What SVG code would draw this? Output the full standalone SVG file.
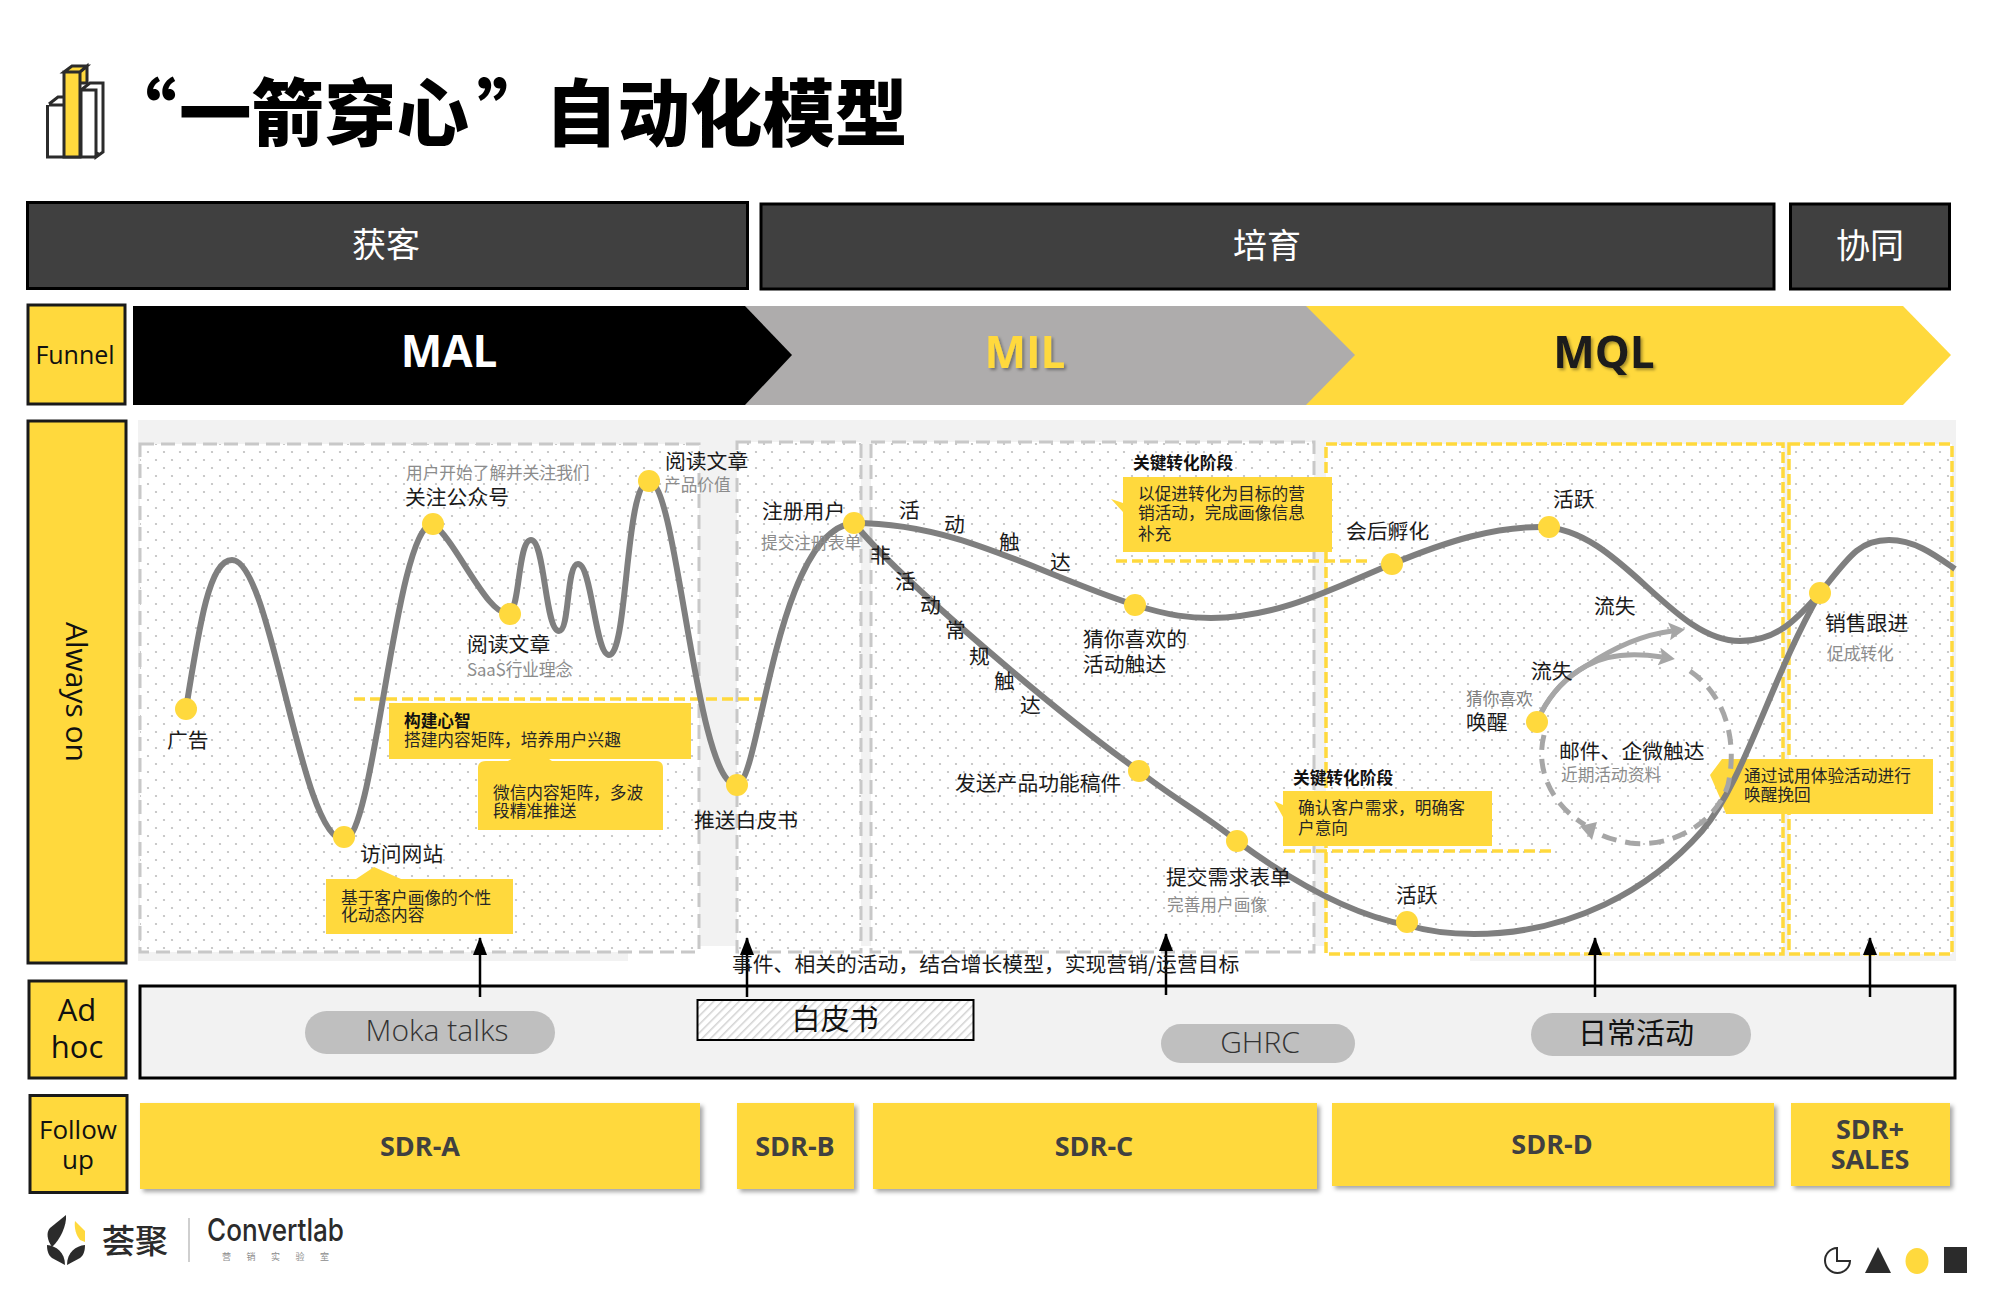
<svg xmlns="http://www.w3.org/2000/svg" width="2000" height="1300" viewBox="0 0 2000 1300">
<style>
text{font-family:"Open Sans","Noto Sans CJK SC",sans-serif;fill:#1a1a1a}
.cjk{font-family:"Noto Sans CJK SC","Open Sans",sans-serif}
.l{font-size:20.800px}
.s{font-size:16.700px;fill:#8c8c8c}
.c{font-size:16.700px;fill:#262626}
.b{font-size:16.700px;font-weight:700;fill:#111}
.hd{fill:#404040;stroke:#000;stroke-width:3}
.ht{font-size:34px;fill:#fff;text-anchor:middle}
.side{fill:#ffd93d;stroke:#1a1a1a;stroke-width:3}
.st{text-anchor:middle;fill:#111}
.pg{fill:url(#dots);stroke:#c8c8c8;stroke-width:3;stroke-dasharray:14 7}
.py{fill:url(#dots);stroke:#ffd93d;stroke-width:3.500;stroke-dasharray:11 4}
.dy{fill:none;stroke:#ffd93d;stroke-width:3.500;stroke-dasharray:11 5}
.curve{fill:none;stroke:#7f7f7f;stroke-width:6}
.dot{fill:#ffd93d}
.box{fill:#ffd93d}
.pill{fill:#bfbfbf}
.pt{text-anchor:middle;font-size:30px;fill:#333;font-weight:300}
.ptc{text-anchor:middle;font-size:29px;fill:#111;font-weight:400}
.sdr{fill:#ffd93d;filter:url(#sh)}
.sdt{font-size:27px;font-weight:700;fill:#404040;text-anchor:middle}
.up{stroke:#000;stroke-width:2.500;fill:none;marker-end:url(#ah)}
.ga{fill:none;stroke:#a6a6a6;stroke-width:5;marker-end:url(#gh)}
.ink{fill:#2b2b2b}
</style>
<defs>
<pattern id="dots" width="16" height="16" patternUnits="userSpaceOnUse"><rect width="16" height="16" fill="#fff"/><circle cx="4" cy="4" r="1.100" fill="#bdbdbd"/><circle cx="12" cy="12" r="1.100" fill="#bdbdbd"/></pattern>
<pattern id="hatch" width="6" height="6" patternUnits="userSpaceOnUse" patternTransform="rotate(45)"><rect width="6" height="6" fill="#fff"/><rect width="1.500" height="6" fill="#d2d2d2"/></pattern>
<marker id="ah" markerUnits="userSpaceOnUse" markerWidth="18" markerHeight="14" refX="17" refY="7" orient="auto" viewBox="0 0 18 14"><path d="M0,0 L18,7 L0,14 Z" fill="#000"/></marker>
<marker id="gh" markerUnits="userSpaceOnUse" markerWidth="16" markerHeight="18" refX="3" refY="9" orient="auto" viewBox="0 0 16 18"><path d="M0,0 L16,9 L0,18 L3,9 Z" fill="#a6a6a6"/></marker>
<filter id="sh" x="-5%" y="-10%" width="110%" height="125%"><feDropShadow dx="3" dy="3" stdDeviation="2" flood-color="#000" flood-opacity=".35"/></filter>
<filter id="ts" x="-10%" y="-10%" width="120%" height="120%"><feDropShadow dx="2" dy="2" stdDeviation="1.500" flood-color="#000" flood-opacity=".35"/></filter>
</defs>
<rect width="2000" height="1300" fill="#fff"/>

<g id="title-icon">
<path d="M47,157V105L56,98H66V157Z M80,157V90L88,82H97V90" fill="#fff"/>
<path d="M49,104L58,97H65 M49,105H63 M47.500,105V157H95L98,152 M81,90L90,83H103V152L96,157V90H81V157" fill="#fff" stroke="#2b2b2b" stroke-width="3"/>
<path d="M64,157V72H80V157Z M64,72L72,66H87L80,72Z M80,72L87,66V83H80Z" fill="#ffd93d" stroke="#2b2b2b" stroke-width="3"/>
</g>
<text id="title" class="cjk" y="140" font-size="72.500" font-weight="900" style="fill:#000"><tspan x="104">“</tspan><tspan x="179">一箭穿心</tspan><tspan x="477">”</tspan><tspan x="545">自动化模型</tspan></text>

<g id="stage-acquire"><rect class="hd" x="27.500" y="202.500" width="720" height="86"/><text class="ht cjk" x="386" y="257">获客</text></g>
<g id="stage-nurture"><rect class="hd" x="761" y="204" width="1013" height="85"/><text class="ht cjk" x="1267" y="258">培育</text></g>
<g id="stage-collab"><rect class="hd" x="1790.500" y="204" width="159" height="85"/><text class="ht cjk" x="1870" y="258">协同</text></g>

<g id="label-funnel"><rect class="side" x="28" y="305" width="97" height="99"/><text class="st" x="75" y="364" font-size="25">Funnel</text></g>
<g id="funnel-mql"><path d="M1300,306H1903L1951,355L1903,405H1300Z" fill="#ffd93d"/><text x="1604" y="368" font-size="44" font-weight="700" text-anchor="middle" filter="url(#ts)" style="fill:#1a1a1a">MQL</text></g>
<g id="funnel-mil"><path d="M745,306H1306L1355,355L1306,405H745Z" fill="#aeacac"/><text x="1025" y="368" font-size="44" font-weight="700" text-anchor="middle" filter="url(#ts)" style="fill:#ffd93d">MIL</text></g>
<g id="funnel-mal"><path d="M133,306H745L792,355L745,405H133Z" fill="#000"/><text x="449" y="367" font-size="44" font-weight="700" text-anchor="middle" style="fill:#fff">MAL</text></g>

<g id="label-always-on"><rect class="side" x="28" y="421" width="98" height="542"/><text class="st" font-size="30" transform="translate(66 692) rotate(90)">Always on</text></g>

<g id="canvas">
<rect x="138" y="420" width="1818" height="526" fill="#f2f2f2"/>
<rect x="138" y="946" width="490" height="15" fill="#f2f2f2"/>
<rect x="1470" y="946" width="486" height="15" fill="#f2f2f2"/>
<rect class="pg" x="140" y="444" width="559" height="508"/>
<rect class="pg" x="737" y="442" width="124" height="510"/>
<rect class="pg" x="871" y="442" width="443" height="510"/>
<rect class="py" x="1326" y="444" width="457" height="510"/>
<rect class="py" x="1789" y="444" width="163" height="510"/>
</g>

<g id="callouts">
<path class="dy" d="M354,699H762"/>
<path class="dy" d="M1116,561H1367"/>
<path class="dy" d="M1284,851H1555"/>
<g id="callout-mind"><rect class="box" x="389" y="703" width="302" height="56"/><text class="b cjk" x="404" y="727">构建心智</text><text class="c cjk" x="404" y="746">搭建内容矩阵，培养用户兴趣</text></g>
<g id="callout-wechat"><path class="box" d="M478,830V768Q478,761 486,761H508L515,757H546L552,761H656Q663,761 663,768V830Z"/><text class="c cjk" x="493" y="799">微信内容矩阵，多波</text><text class="c cjk" x="493" y="817">段精准推送</text></g>
<g id="callout-dynamic"><path class="box" d="M326,879H356L374,867L401,879H513V934H326Z"/><text class="c cjk" x="341" y="904">基于客户画像的个性</text><text class="c cjk" x="341" y="921">化动态内容</text></g>
<g id="callout-key1"><path class="box" d="M1123,477H1332V552H1123V512L1111,499L1123,503Z"/><text class="b cjk" x="1133" y="469">关键转化阶段</text><text class="c cjk" x="1138" y="500">以促进转化为目标的营</text><text class="c cjk" x="1138" y="519">销活动，完成画像信息</text><text class="c cjk" x="1138" y="540">补充</text></g>
<g id="callout-key2"><path class="box" d="M1283,791H1492V846H1283V817L1274,801L1283,805Z"/><text class="b cjk" x="1293" y="784">关键转化阶段</text><text class="c cjk" x="1298" y="814">确认客户需求，明确客</text><text class="c cjk" x="1298" y="834">户意向</text></g>
<g id="callout-trial"><path class="box" d="M1722,759H1933V814H1726L1720,798L1710,775Z"/><text class="c cjk" x="1744" y="782">通过试用体验活动进行</text><text class="c cjk" x="1744" y="801">唤醒挽回</text></g>
</g>

<g id="connectors">
<path id="curve-acquire" class="curve" d="M186,709C200,620 210,560 232,560C272,560 300,840 344,840C375,840 395,524 433,524C456,540 490,622 510,612C520,607 518,540 531,540C545,540 545,631 559,631C570,631 566,564 578,564C592,564 595,655 609,655C628,655 625,481 649,481C678,481 695,785 737,785C760,785 775,530 854,523"/>
<path id="curve-upper" class="curve" d="M854,523C960,523 1040,575 1135,605C1170,616 1190,618 1211,618C1280,618 1340,585 1392,564C1450,540 1495,527 1540,527C1620,527 1670,641 1740,641C1780,641 1800,615 1820,593C1850,555 1860,540 1889,540C1915,540 1935,555 1955,569"/>
<path id="curve-lower" class="curve" d="M854,523C900,580 1060,715 1139,771C1170,796 1205,815 1237,841C1290,880 1350,915 1407,925C1430,932 1450,934 1474,934C1570,934 1650,890 1702,831C1745,780 1770,680 1820,593"/>
<path id="arrow-lost-1" class="ga" d="M1541,713C1552,692 1568,676 1586,666C1610,650 1640,635 1672,631"/>
<path id="arrow-lost-2" class="ga" d="M1541,713C1552,692 1568,676 1586,666C1605,655 1630,652 1662,657"/>
<path id="loop-a" fill="none" stroke="#a6a6a6" stroke-width="5" stroke-dasharray="15 9" d="M1690,671C1725,695 1738,740 1728,785C1715,825 1670,848 1630,843C1615,840 1605,838 1596,832"/>
<path id="loop-b" fill="none" stroke="#a6a6a6" stroke-width="5" stroke-dasharray="15 9" d="M1544,735C1535,770 1552,805 1585,825"/>
<path id="loop-head" d="M1597,822L1592,840L1580,826Z" fill="#a6a6a6"/>
<path class="up" d="M480,997V938"/>
<path class="up" d="M747,997V938"/>
<path class="up" d="M1166,995V934"/>
<path class="up" d="M1595,997V938"/>
<path class="up" d="M1870,997V938"/>
</g>

<g id="node-ad"><circle class="dot" cx="186" cy="709" r="11"/><text class="l cjk" x="167" y="748">广告</text></g>
<g id="node-visit"><circle class="dot" cx="344" cy="837" r="11"/><text class="l cjk" x="360" y="862">访问网站</text></g>
<g id="node-follow"><circle class="dot" cx="433" cy="524" r="11"/><text class="s cjk" x="406" y="479">用户开始了解并关注我们</text><text class="l cjk" x="405" y="505">关注公众号</text></g>
<g id="node-read1"><circle class="dot" cx="510" cy="614" r="11"/><text class="l cjk" x="467" y="652">阅读文章</text><text class="s cjk" x="467" y="676">SaaS行业理念</text></g>
<g id="node-read2"><circle class="dot" cx="649" cy="481" r="11"/><text class="l cjk" x="665" y="469">阅读文章</text><text class="s cjk" x="664" y="491">产品价值</text></g>
<g id="node-whitepaper"><circle class="dot" cx="737" cy="785" r="11"/><text class="l cjk" x="694" y="828">推送白皮书</text></g>
<g id="node-register"><circle class="dot" cx="854" cy="523" r="11"/><text class="l cjk" x="762" y="519">注册用户</text><text class="s cjk" x="761" y="549">提交注册表单</text></g>
<g id="label-active-touch">
<text class="l cjk" x="899" y="518">活</text><text class="l cjk" x="944" y="532">动</text><text class="l cjk" x="999" y="550">触</text><text class="l cjk" x="1050" y="570">达</text>
</g>
<g id="label-nonactive-touch">
<text class="l cjk" x="870" y="563">非</text><text class="l cjk" x="895" y="589">活</text><text class="l cjk" x="920" y="613">动</text><text class="l cjk" x="945" y="638">常</text><text class="l cjk" x="969" y="664">规</text><text class="l cjk" x="994" y="689">触</text><text class="l cjk" x="1020" y="713">达</text>
</g>
<g id="node-guess"><circle class="dot" cx="1135" cy="605" r="11"/><text class="l cjk" x="1083" y="647">猜你喜欢的</text><text class="l cjk" x="1083" y="672">活动触达</text></g>
<g id="node-feature"><circle class="dot" cx="1139" cy="771" r="11"/><text class="l cjk" x="955" y="791">发送产品功能稿件</text></g>
<g id="node-demand"><circle class="dot" cx="1237" cy="841" r="11"/><text class="l cjk" x="1166" y="885">提交需求表单</text><text class="s cjk" x="1167" y="911">完善用户画像</text></g>
<g id="node-incubate"><circle class="dot" cx="1392" cy="564" r="11"/><text class="l cjk" x="1346" y="539">会后孵化</text></g>
<g id="node-active-up"><circle class="dot" cx="1549" cy="527" r="11"/><text class="l cjk" x="1553" y="507">活跃</text></g>
<g id="node-active-low"><circle class="dot" cx="1407" cy="922" r="11"/><text class="l cjk" x="1396" y="903">活跃</text></g>
<g id="node-wake"><circle class="dot" cx="1537" cy="722" r="11"/><text class="s cjk" x="1466" y="705" style="fill:#7f7f7f">猜你喜欢</text><text class="l cjk" x="1466" y="730">唤醒</text></g>
<g id="node-sales"><circle class="dot" cx="1820" cy="593" r="11"/><text class="l cjk" x="1825" y="631">销售跟进</text><text class="s cjk" x="1827" y="660">促成转化</text></g>
<g id="label-lost"><text class="l cjk" x="1594" y="614">流失</text><text class="l cjk" x="1531" y="679">流失</text></g>
<g id="label-touch"><text class="l cjk" x="1559" y="759">邮件、企微触达</text><text class="s cjk" x="1561" y="781">近期活动资料</text></g>

<g id="label-adhoc"><rect class="side" x="29" y="981" width="97" height="97"/><text class="st" x="77" y="1021" font-size="31">Ad</text><text class="st" x="77" y="1058" font-size="31">hoc</text></g>
<rect id="adhoc-panel" x="140" y="986" width="1815" height="92" fill="#f2f2f2" stroke="#000" stroke-width="3"/>
<text id="goal-text" class="l cjk" x="732" y="972">事件、相关的活动，结合增长模型，实现营销/运营目标</text>
<g id="adhoc-arrows"><path stroke="#000" stroke-width="2.500" d="M480,986V997M747,986V997M1166,986V995M1595,986V997M1870,986V997"/></g>
<g id="adhoc-moka"><rect class="pill" x="305" y="1011" width="250" height="43" rx="21.500"/><text class="pt" x="437" y="1041">Moka talks</text></g>
<g id="adhoc-whitepaper"><rect x="697.500" y="1000" width="276" height="40" fill="url(#hatch)" stroke="#000" stroke-width="2"/><text class="ptc cjk" x="835" y="1030">白皮书</text></g>
<g id="adhoc-ghrc"><rect class="pill" x="1161" y="1024" width="194" height="39" rx="19.500"/><text class="pt" x="1260" y="1053">GHRC</text></g>
<g id="adhoc-daily"><rect class="pill" x="1531" y="1013" width="220" height="43" rx="21.500"/><text class="ptc cjk" x="1636" y="1044">日常活动</text></g>

<g id="label-follow-up"><rect class="side" x="30" y="1095.500" width="97" height="97"/><text class="st" x="78" y="1139" font-size="26">Follow</text><text class="st" x="78" y="1169" font-size="26">up</text></g>
<g id="sdr-a"><rect class="sdr" x="140" y="1103" width="560" height="86"/><text class="sdt" x="420" y="1156">SDR-A</text></g>
<g id="sdr-b"><rect class="sdr" x="737" y="1103" width="117" height="86"/><text class="sdt" x="795" y="1156">SDR-B</text></g>
<g id="sdr-c"><rect class="sdr" x="873" y="1103" width="444" height="86"/><text class="sdt" x="1094" y="1156">SDR-C</text></g>
<g id="sdr-d"><rect class="sdr" x="1332" y="1103" width="442" height="83"/><text class="sdt" x="1552" y="1154">SDR-D</text></g>
<g id="sdr-sales"><rect class="sdr" x="1791" y="1103" width="159" height="83"/><text class="sdt" x="1870" y="1139">SDR+</text><text class="sdt" x="1870" y="1169">SALES</text></g>

<g id="logo">
<path class="ink" d="M66,1215C67,1225 60,1240 52,1247C47,1240 46,1232 50,1228Z"/>
<path d="M75,1221L85,1231V1242L80,1240C76,1235 74,1228 75,1221Z" fill="#ffd93d"/>
<path class="ink" d="M47,1245C56,1246 65,1252 65,1265L52,1258C48,1255 47,1250 47,1245Z"/>
<path class="ink" d="M85,1245C76,1246 67,1252 67,1265L80,1258C84,1255 85,1250 85,1245Z"/>
<text class="cjk" x="102" y="1253" font-size="33" font-weight="500" style="fill:#2b2b2b">荟聚</text>
<path d="M189,1218V1262" stroke="#bfbfbf" stroke-width="1.500"/>
<text x="207" y="1241" font-size="31" font-weight="500" textLength="137" lengthAdjust="spacingAndGlyphs" style="font-family:Inter,sans-serif;fill:#2b2b2b">Convertlab</text>
<text class="cjk" x="222" y="1260" font-size="9" letter-spacing="15.500" style="fill:#8c8c8c">营销实验室</text>
</g>
<g id="corner-icons">
<path d="M1837,1248A12.500,12.500 0 1 0 1850,1261H1837Z" fill="#fff" stroke="#2b2b2b" stroke-width="2"/>
<path class="ink" d="M1878,1247L1891,1273H1865Z"/>
<ellipse cx="1917" cy="1261" rx="11.500" ry="13" fill="#ffd93d"/>
<rect class="ink" x="1944" y="1247" width="23" height="26"/>
</g>
</svg>
